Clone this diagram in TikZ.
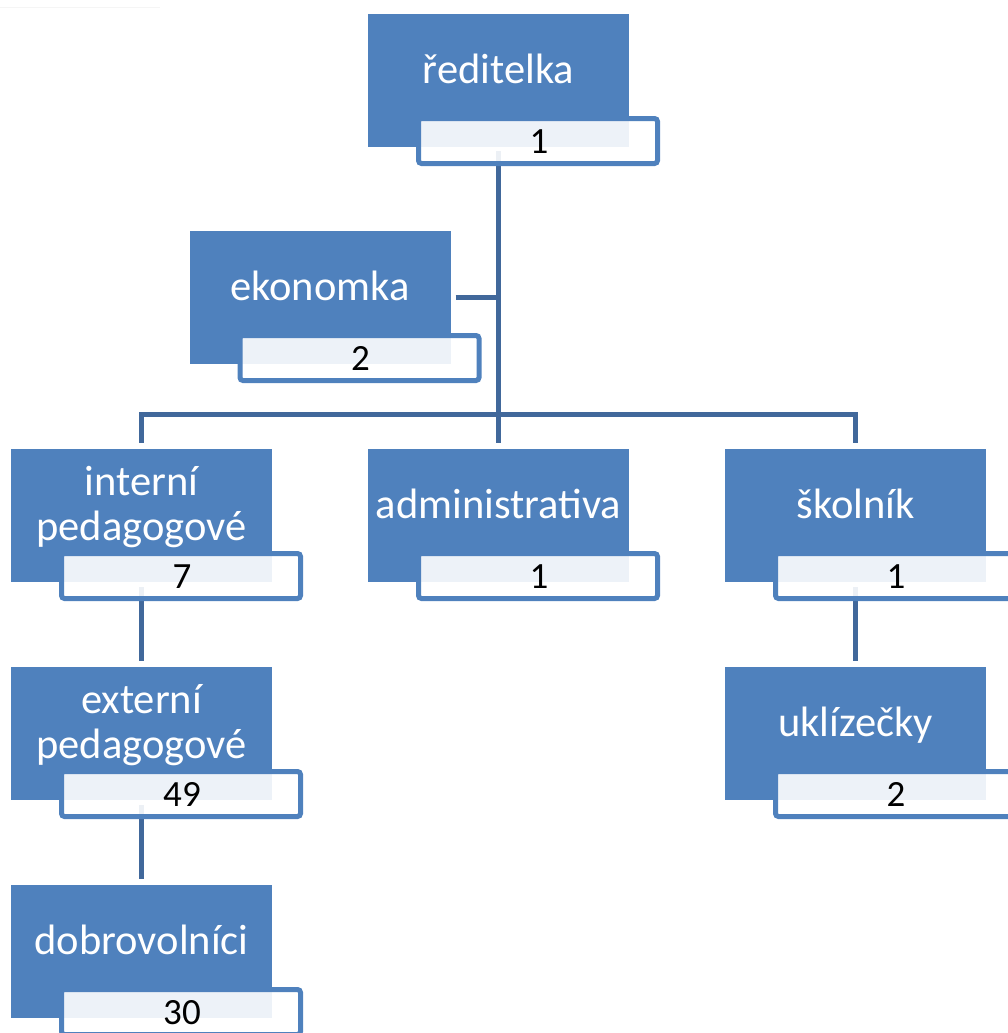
\documentclass[tikz,border=0pt]{standalone}
\usepackage{fontspec}
\setmainfont{Carlito}
\usetikzlibrary{calc}
\definecolor{boxblue}{HTML}{4F81BD}
\definecolor{linkblue}{HTML}{41689B}
\definecolor{edgeblue}{HTML}{4F81BD}
\pgfdeclarelayer{background}
\pgfsetlayers{background,main}
\tikzset{
  bluebox/.style={rectangle, fill=boxblue, minimum width=261pt, minimum height=133pt, inner sep=0pt},
  numbox/.style={rectangle, rounded corners=3pt, draw=edgeblue, line width=5pt, fill=white, fill opacity=0.9, minimum width=239pt, minimum height=45pt, inner sep=0pt},
  lbl/.style={text=white, font=\fontsize{42.5}{45}\selectfont, align=center, inner sep=0pt, anchor=north},
  numtxt/.style={text=black, font=\fontsize{37}{45}\selectfont, inner sep=0pt, anchor=base},
  link/.style={draw=linkblue, line width=5pt},
}
\newcommand\orgunit[6]{%
  \node[bluebox] (#1) at (#2,#3+66.5) {};
  \node[numbox] (#1-n) at (#2+39.5,#3+127) {};
  \node[lbl] (#1-t) at (#2,#3+#5) {#4};
  \node[numtxt] (#1-v) at (#2+40.5,#3+139) {#6};
}
\begin{document}
\begin{tikzpicture}[x=1pt,y=-1pt]
\useasboundingbox (0,0) rectangle (1008,1033);
\clip (0,0) rectangle (1008,1033);
\draw[gray!8, line width=1pt] (0,8) -- (160,8);
\orgunit{r}{498.5}{14}{ředitelka\strut}{38}{1}
\orgunit{e}{320}{231}{ekonomka\strut}{38}{2}
\orgunit{ip}{141.5}{449}{interní\strut\\pedagogové\strut}{14.5}{7}
\orgunit{ad}{498.5}{449}{administrativa\strut}{38}{1}
\orgunit{sk}{855.5}{449}{školník\strut}{38}{1}
\orgunit{ep}{141.5}{667}{externí\strut\\pedagogové\strut}{14.5}{49}
\orgunit{uk}{855.5}{667}{uklízečky\strut}{38}{2}
\orgunit{db}{141.5}{885}{dobrovolníci\strut}{38}{30}
\begin{pgfonlayer}{background}
  \coordinate (hub) at (498.5,414.5);
  \draw[link] ($(r.south)+(0,4)$) -- (hub);
  \draw[link] ($(e.east)+(5,0)$) -- (e.east -| hub);
  \draw[link] ($(ip.north)+(0,-6)$) -- (ip.north |- hub) -- (sk.north |- hub) -- ($(sk.north)+(0,-6)$);
  \draw[link] (hub) -- ($(ad.north)+(0,-6)$);
  \draw[link] ($(ip.south)+(0,5)$) -- ($(ep.north)+(0,-6)$);
  \draw[link] ($(ep.south)+(0,5)$) -- ($(db.north)+(0,-6)$);
  \draw[link] ($(sk.south)+(0,5)$) -- ($(uk.north)+(0,-6)$);
\end{pgfonlayer}
\end{tikzpicture}
\end{document}
